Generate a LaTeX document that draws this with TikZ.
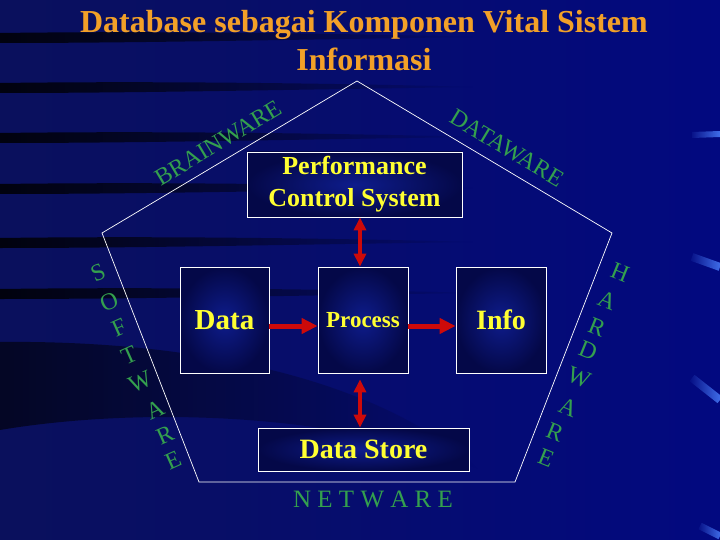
\documentclass[tikz,border=0pt]{standalone}
\usepackage{fontspec}
\setmainfont{Liberation Serif}
\usetikzlibrary{arrows.meta,fadings}
\definecolor{bgblue}{RGB}{2,9,128}
\definecolor{bgdark}{RGB}{10,16,92}
\definecolor{boxin}{RGB}{14,28,140}
\definecolor{boxout}{RGB}{4,8,72}
\definecolor{titleorange}{RGB}{242,160,40}
\definecolor{textyellow}{RGB}{255,255,50}
\definecolor{waregreen}{RGB}{52,160,78}
\definecolor{arrowred}{RGB}{205,10,10}
\definecolor{streakblue}{RGB}{70,120,245}
\tikzfading[name=fadeoff, left color=transparent!0, right color=transparent!100]
\tikzfading[name=fadeon, left color=transparent!100, right color=transparent!0]
\tikzset{
  blok/.style={draw=white, line width=0.8pt, inner color=boxin, outer color=boxout, text=textyellow},
  ware/.style={text=waregreen, font=\fontsize{24}{24}\selectfont, inner sep=0pt},
  flow/.style={draw=arrowred, line width=5pt, -{Triangle[length=16pt,width=15pt]}},
  link/.style={draw=arrowred, line width=4pt, {Triangle[length=13pt,width=12pt]}-{Triangle[length=13pt,width=12pt]}}
}

\begin{document}
\begin{tikzpicture}[x=1pt,y=-1pt]
    \useasboundingbox (0,0) rectangle (720,540);
    \shade[left color=bgdark, right color=bgblue] (0,0) rectangle (720,540);
    \foreach \y in {37,87,137,188,242,293}
        \fill[black, opacity=0.85, path fading=fadeoff] (0,\y-4) .. controls (150,\y-6) and (320,\y-4) .. (480,\y) .. controls (320,\y+2) and (150,\y+6) .. (0,\y+6) -- cycle;
    \fill[black, opacity=0.6, path fading=fadeoff] (0,342) .. controls (200,340) and (380,380) .. (480,470) .. controls (350,415) and (150,405) .. (0,430) -- cycle;
    \draw[streakblue, line width=6pt, path fading=fadeon] (692,135) -- (720,134);
    \draw[streakblue, line width=8pt, path fading=fadeon] (692,257) -- (720,267);
    \draw[streakblue, line width=8pt, path fading=fadeon] (692,378) -- (720,400);
    \draw[streakblue, line width=7pt, path fading=fadeon] (700,526) -- (720,536);

    \node[text=titleorange, font=\fontsize{32}{38}\selectfont\bfseries, align=center] (title) at (364,41) {Database sebagai Komponen Vital Sistem\\Informasi};

    \coordinate (p1) at (357,81);
    \coordinate (p2) at (612,233);
    \coordinate (p3) at (515,482);
    \coordinate (p4) at (199,482);
    \coordinate (p5) at (102,233);
    \draw[white, line width=0.7pt] (p1) -- (p2) -- (p3) -- (p4) -- (p5) -- cycle;

    \node[blok, minimum width=215pt, minimum height=65pt, font=\fontsize{26}{32}\selectfont\bfseries, align=center] (perf) at (354.5,184.5) {Performance\\Control System};
    \node[blok, minimum width=89pt, minimum height=106pt, font=\fontsize{29}{29}\selectfont\bfseries] (data) at (224.5,320) {Data};
    \node[blok, minimum width=90pt, minimum height=106pt, font=\fontsize{23}{23}\selectfont\bfseries] (proc) at (363,320) {Process};
    \node[blok, minimum width=90pt, minimum height=106pt, font=\fontsize{28}{28}\selectfont\bfseries] (info) at (501,320) {Info};
    \node[blok, minimum width=211pt, minimum height=43pt, font=\fontsize{28}{28}\selectfont\bfseries] (store) at (363.5,449.5) {Data Store};

    \draw[flow] ([yshift=-6pt]data.east) -- ([yshift=-6pt]proc.west);
    \draw[flow] ([yshift=-6pt]proc.east) -- ([yshift=-6pt]info.west);
    \draw[link] ([xshift=-3pt]proc.north |- perf.south) -- ([xshift=-3pt]proc.north);
    \draw[link] ([xshift=-3pt,yshift=-6pt]proc.south) -- ([xshift=-3pt]proc.south |- store.north);

    \node[ware, rotate=31] (brain) at (218,143) {BRAINWARE};
    \node[ware, rotate=-31] (dataware) at (507,148) {DATAWARE};
    \node[ware, font=\fontsize{25}{25}\selectfont] (net) at (373,499) {N E T W A R E};
    \foreach \ch/\x/\y [count=\i] in {S/98/273, O/109/302, F/119/328, T/129/355, W/140/382, A/155/410, R/165/435, E/173/460}
        \node[ware, rotate=24] (soft\i) at (\x,\y) {\ch};
    \foreach \ch/\x/\y [count=\i] in {H/620/272, A/607/300, R/597/327, D/588/350, W/579/378, A/568/407, R/555/432, E/546/458}
        \node[ware, rotate=-22] (hard\i) at (\x,\y) {\ch};
\end{tikzpicture}
\end{document}
